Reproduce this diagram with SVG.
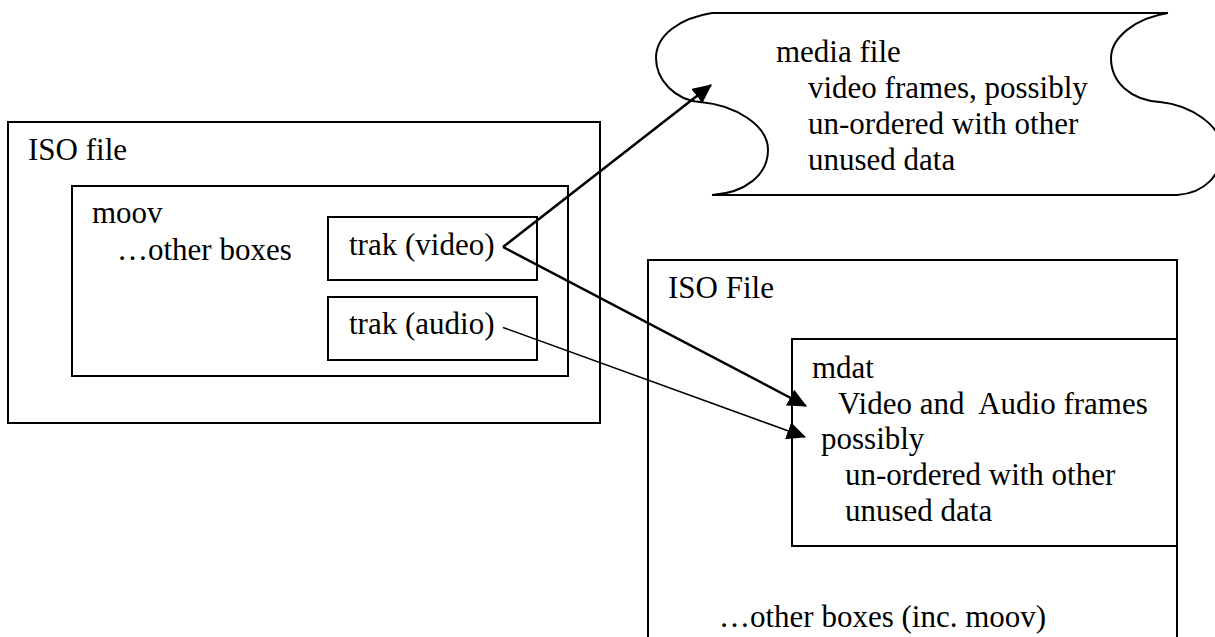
<svg xmlns="http://www.w3.org/2000/svg" width="1215" height="637" viewBox="0 0 1215 637">
<style>
  .box{fill:none;stroke:#000;stroke-width:2}
  .t{font-family:"Liberation Serif","Times New Roman",serif;font-size:31px;fill:#000;white-space:pre}
  .c{fill:none;stroke:#000}
  .thick{stroke-width:2.5}
  .thin{stroke-width:1.5}
</style>
<defs>
  <marker id="ah" markerUnits="userSpaceOnUse" markerWidth="20" markerHeight="18" refX="18" refY="9" orient="auto">
    <path d="M0,0 L19,9 L0,18 z" fill="#000"/>
  </marker>
</defs>
<rect width="1215" height="637" fill="#fff"/>

<g id="iso-file-left">
  <rect class="box" x="8" y="122" width="592" height="301"/>
  <text class="t" x="28" y="160">ISO file</text>
</g>
<g id="moov">
  <rect class="box" x="72" y="186" width="496" height="190"/>
  <text class="t" x="92" y="223">moov</text>
  <text class="t" x="117" y="260">…other boxes</text>
</g>
<g id="trak-video">
  <rect class="box" x="328" y="217" width="209" height="63"/>
  <text class="t" x="349" y="255">trak (video)</text>
</g>
<g id="trak-audio">
  <rect class="box" x="328" y="297" width="209" height="63"/>
  <text class="t" x="349" y="334">trak (audio)</text>
</g>

<g id="media-file">
  <path class="box" d="M712,13 L1168,13 C1135,18 1111,38 1111,58 C1111,82 1130,100 1160,102 C1190,105 1222,125 1222,150 C1222,175 1205,193 1177,195 L712,195 C745,193 768,175 768,150 C768,125 735,105 700,102 C675,100 656,80 656,58 C656,35 680,18 712,13 z"/>
  <text class="t" x="776" y="62">media file</text>
  <text class="t" x="808" y="98">video frames, possibly</text>
  <text class="t" x="808" y="134">un-ordered with other</text>
  <text class="t" x="808" y="170">unused data</text>
</g>

<g id="iso-file-right">
  <path class="box" d="M648,637 V260 H1177 V637"/>
  <text class="t" x="668" y="298">ISO File</text>
  <text class="t" x="719" y="627">…other boxes (inc. moov)</text>
</g>
<g id="mdat">
  <rect class="box" x="792" y="339" width="385" height="207"/>
  <text class="t" x="812" y="378">mdat</text>
  <text class="t" x="838" y="414">Video and  Audio frames</text>
  <text class="t" x="821" y="449">possibly</text>
  <text class="t" x="845" y="485">un-ordered with other</text>
  <text class="t" x="845" y="521">unused data</text>
</g>

<g id="connectors">
  <path class="c thick" d="M503,247 L711,85" marker-end="url(#ah)"/>
  <path class="c thick" d="M503,247 L806,406" marker-end="url(#ah)"/>
  <path class="c thin" d="M503,327.5 L805,437" marker-end="url(#ah)"/>
</g>
</svg>
